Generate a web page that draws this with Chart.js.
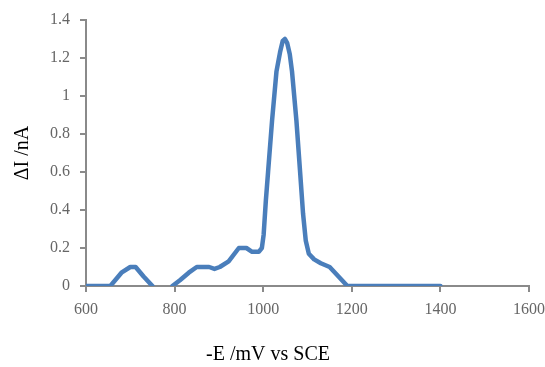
<!DOCTYPE html>
<html>
<head>
<meta charset="utf-8">
<script src="https://cdn.jsdelivr.net/npm/chart.js@4/dist/chart.umd.min.js"></script>
<style>
  html, body { margin: 0; padding: 0; background: #fff; overflow: hidden; }
  #wrap { width: 553px; height: 367px; position: relative; }
</style>
</head>
<body>
<div id="wrap"><canvas id="dpv"></canvas></div>
<script>
// potential (-E, mV vs SCE) and differential current (nA); null = no data
const potential = [600, 655, 680, 700, 712, 730, 750, 775, 795, 812, 832, 850, 878, 890, 902, 922, 945, 962, 975, 990, 997, 1001,
  1006, 1011, 1020, 1030, 1038, 1044, 1049, 1054, 1060, 1065, 1075, 1083, 1090, 1096, 1103, 1115, 1130, 1150, 1170, 1190, 1400];
const current = [0, 0, 0.07, 0.1, 0.1, 0.05, 0, null, 0, 0.03, 0.07, 0.1, 0.1, 0.09, 0.1, 0.13, 0.2, 0.2, 0.18, 0.18, 0.2, 0.27,
  0.45, 0.6, 0.87, 1.13, 1.23, 1.29, 1.3, 1.28, 1.22, 1.13, 0.87, 0.61, 0.38, 0.24, 0.17, 0.14, 0.12, 0.1, 0.05, 0, 0];

const xTitle = '-E /mV vs SCE';
const yTitle = 'ΔI /nA';

const points = potential.map((x, i) => ({ x: x, y: current[i] }));

const SERIF = '"Liberation Serif", "DejaVu Serif", serif';
const AXIS = '#8a8a8a';

// axis titles are drawn by hand so they sit where the original has them
const titlesPlugin = {
    id: 'titles',
    afterDraw(chart) {
        const c = chart.ctx;
        c.save();
        c.fillStyle = '#000';
        c.font = '20px ' + SERIF;
        c.textAlign = 'center';
        c.textBaseline = 'middle';
        c.fillText(xTitle, 268, 355);
        c.translate(23, 153);
        c.rotate(-Math.PI / 2);
        c.fillText(yTitle, 0, 0);
        c.restore();
    }
};

new Chart(document.getElementById('dpv'), {
    type: 'line',
    data: {
        datasets: [{
            data: points,
            borderColor: '#4a7ebb',
            borderWidth: 4.5,
            borderJoinStyle: 'round',
            borderCapStyle: 'round',
            pointRadius: 0,
            tension: 0,
            spanGaps: false,
            fill: false,
        }],
    },
    options: {
        responsive: true,
        maintainAspectRatio: false,
        animation: false,
        layout: { padding: { top: 20, right: 16, left: 0, bottom: 0 } },
        plugins: { legend: { display: false }, tooltip: { enabled: false } },
        scales: {
            x: {
                type: 'linear', min: 600, max: 1600,
                afterFit: s => { s.height = 81; },
                ticks: { stepSize: 200, color: '#666', padding: 8, maxRotation: 0, font: { family: SERIF, size: 16 },
                    callback: v => String(v) },
                grid: { drawOnChartArea: false, drawTicks: true, tickLength: 6, color: AXIS, lineWidth: 2 },
                border: { display: true, color: AXIS, width: 2 },
            },
            y: {
                min: 0, max: 1.4,
                afterFit: s => { s.width = 86; },
                ticks: { stepSize: 0.2, color: '#666', padding: 10, font: { family: SERIF, size: 16 },
                    callback: v => String(+v.toFixed(1)) },
                grid: { drawOnChartArea: false, drawTicks: true, tickLength: 6, color: AXIS, lineWidth: 2 },
                border: { display: true, color: AXIS, width: 2 },
            },
        },
    },
    plugins: [titlesPlugin],
});
</script>
</body>
</html>
